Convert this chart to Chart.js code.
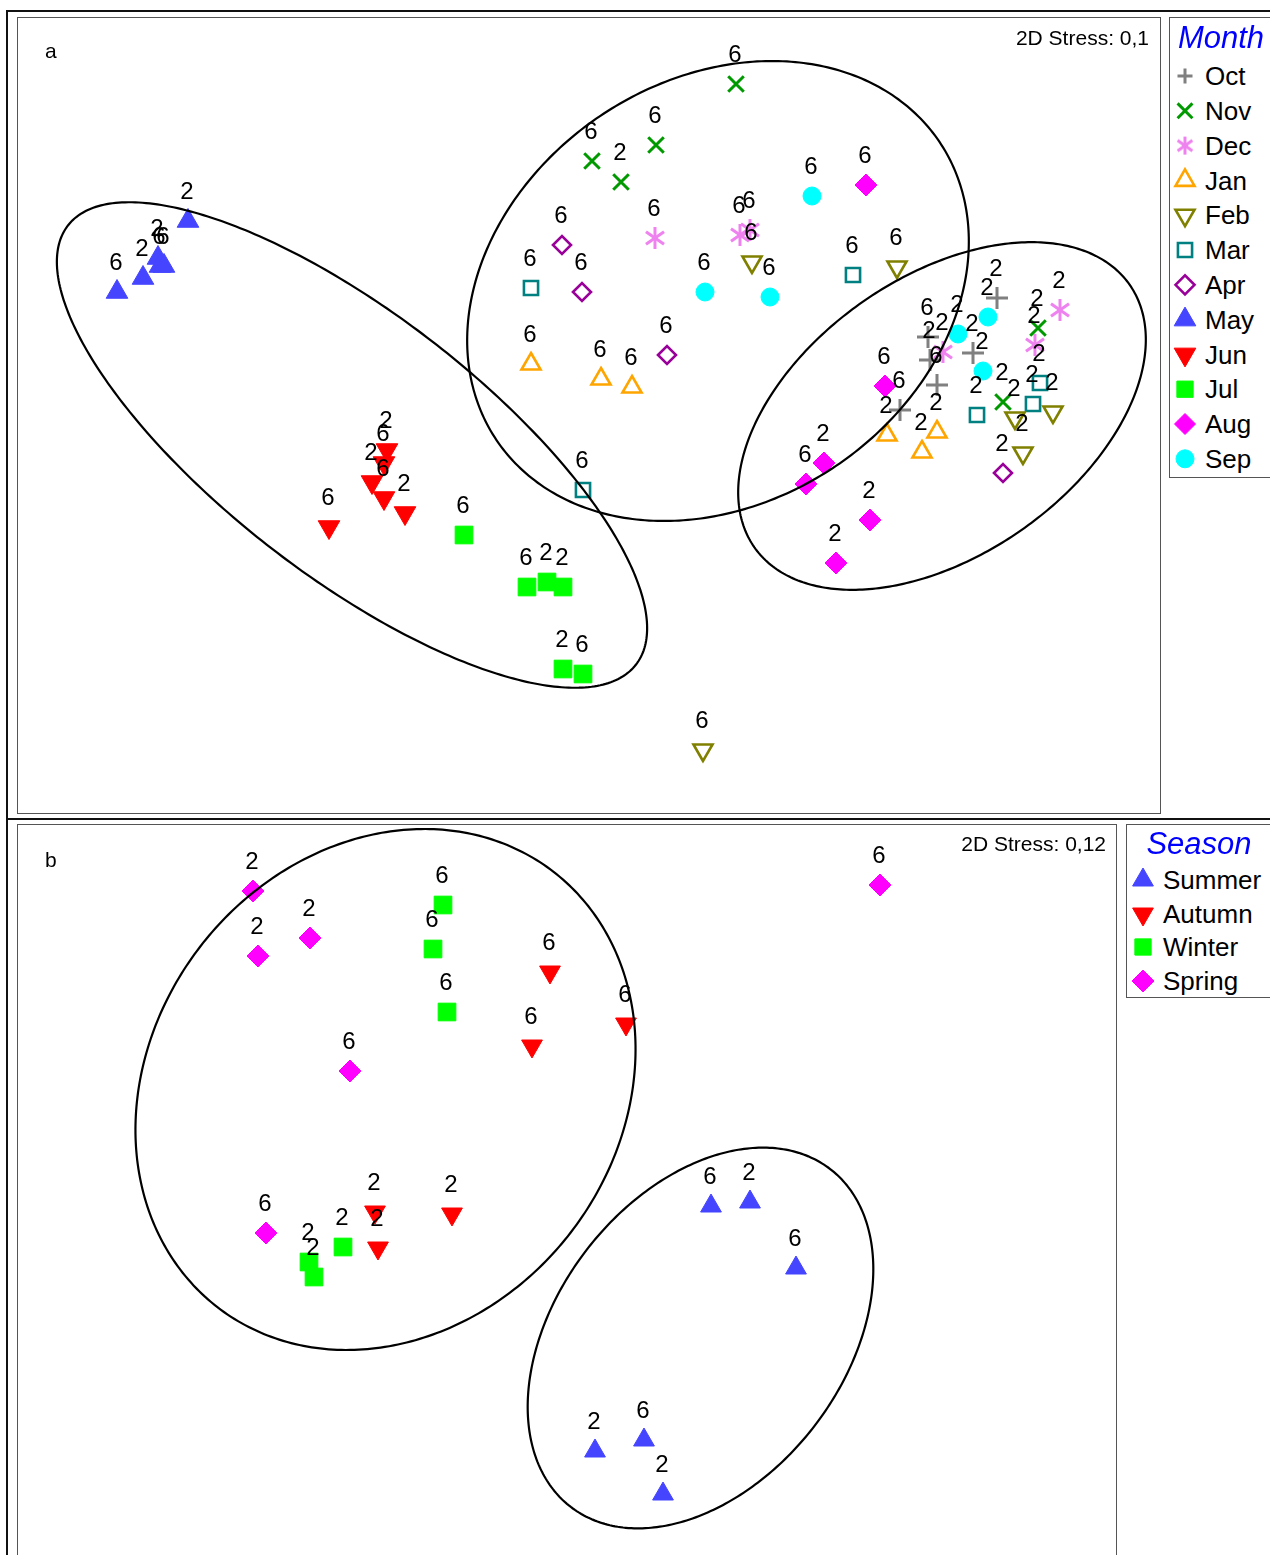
<!DOCTYPE html>
<html>
<head>
<meta charset="utf-8">
<script src="https://cdn.jsdelivr.net/npm/chart.js@4.4.1/dist/chart.umd.min.js"></script>
<style>
  html, body { margin: 0; padding: 0; background: #fff; }
  body { width: 1270px; height: 1555px; overflow: hidden; position: relative;
         font-family: "Liberation Sans", Arial, sans-serif; color: #000; }
  .abs { position: absolute; box-sizing: border-box; }
  .txt { position: absolute; white-space: nowrap; }
</style>
</head>
<body>
<div class="abs" style="left:6px;top:10px;width:1300px;height:1600px;border-left:2px solid #111;border-top:2px solid #111;"></div>
<div class="abs" style="left:6px;top:818px;width:1300px;height:0;border-top:2px solid #111;"></div>

<div class="abs" style="left:17px;top:17px;width:1144px;height:797px;border:1px solid #555;"></div>
<div class="abs" style="left:1169px;top:17px;width:200px;height:461px;border:1px solid #555;"></div>
<div class="abs" style="left:17px;top:824px;width:1100px;height:800px;border:1px solid #555;"></div>
<div class="abs" style="left:1126px;top:824px;width:200px;height:174px;border:1px solid #555;"></div>

<canvas id="plotA" class="abs" style="left:18px;top:18px;" width="1142" height="795"></canvas>
<canvas id="plotB" class="abs" style="left:18px;top:825px;" width="1098" height="730"></canvas>
<canvas id="legA" class="abs" style="left:1170px;top:18px;" width="34" height="459"></canvas>
<canvas id="legB" class="abs" style="left:1127px;top:825px;" width="34" height="172"></canvas>

<script>
// ---- Panel a: nMDS scores by month, [MDS1, MDS2, depth label] ----
const months = ['Oct', 'Nov', 'Dec', 'Jan', 'Feb', 'Mar', 'Apr', 'May', 'Jun', 'Jul', 'Aug', 'Sep'];
const oct = [[997, 298, '2'], [928, 337, '6'], [973, 353, '2'], [930, 360, '2'], [937, 385, '6'], [900, 410, '6']];
const nov = [[736, 84, '6'], [592, 161, '6'], [656, 145, '6'], [621, 182, '2'], [1038, 328, '2'], [1003, 402, '2']];
const dec = [[655, 238, '6'], [740, 235, '6'], [750, 230, '6'], [1060, 310, '2'], [1035, 345, '2'], [943, 352, '2']];
const jan = [[531, 364, '6'], [601, 379, '6'], [632, 387, '6'], [887, 435, '2'], [937, 432, '2'], [922, 452, '2']];
const feb = [[752, 262, '6'], [897, 267, '6'], [703, 750, '6'], [1015, 418, '2'], [1053, 412, '2'], [1023, 453, '2']];
const mar = [[531, 288, '6'], [583, 490, '6'], [853, 275, '6'], [977, 415, '2'], [1040, 383, '2'], [1033, 404, '2']];
const apr = [[562, 245, '6'], [582, 292, '6'], [667, 355, '6'], [1003, 473, '2']];
const may = [[117, 292, '6'], [143, 278, '2'], [158, 258, '2'], [160, 266, '6'], [164, 266, '6'], [188, 221, '2']];
const jun = [[387, 450, '2'], [384, 463, '6'], [372, 482, '2'], [384, 498, '6'], [405, 513, '2'], [329, 527, '6']];
const jul = [[464, 535, '6'], [527, 587, '6'], [547, 582, '2'], [563, 587, '2'], [563, 669, '2'], [583, 674, '6']];
const aug = [[866, 185, '6'], [885, 386, '6'], [824, 463, '2'], [806, 484, '6'], [870, 520, '2'], [836, 563, '2']];
const sep = [[812, 196, '6'], [705, 292, '6'], [770, 297, '6'], [988, 317, '2'], [958, 334, '2'], [983, 371, '2']];
// cluster envelopes: [centre MDS1, centre MDS2, semi-major, semi-minor, tilt in degrees]
const clustersA = [[352, 445, 359, 131, 37.7], [718, 291, 267, 211, -34], [942, 416, 229, 139, -35]];
const stressA = '2D Stress: 0,1';

// ---- Panel b: nMDS scores by season ----
const seasons = ['Summer', 'Autumn', 'Winter', 'Spring'];
const summer = [[711, 1206, '6'], [750, 1202, '2'], [796, 1268, '6'], [595, 1451, '2'], [644, 1440, '6'], [663, 1494, '2']];
const autumn = [[550, 972, '6'], [532, 1046, '6'], [626, 1024, '6'], [375, 1212, '2'], [378, 1248, '2'], [452, 1214, '2']];
const winter = [[443, 905, '6'], [433, 949, '6'], [447, 1012, '6'], [343, 1247, '2'], [309, 1262, '2'], [314, 1277, '2']];
const spring = [[253, 891, '2'], [258, 956, '2'], [310, 938, '2'], [350, 1071, '6'], [266, 1233, '6'], [880, 885, '6']];
const clustersB = [[385.5, 1089.5, 275, 234, -52.4], [700.5, 1338, 213, 144, -52.5]];
const stressB = '2D Stress: 0,12';

// ---- marker styling ----
function asterisk(color, size, lw) {
  const c = document.createElement('canvas');
  c.width = size; c.height = size;
  const g = c.getContext('2d');
  g.strokeStyle = color; g.lineWidth = lw;
  const m = size / 2, r = size / 2 - 1;
  [90, 35, 145].forEach(function (a) {
    const t = a * Math.PI / 180;
    g.beginPath();
    g.moveTo(m - r * Math.cos(t), m - r * Math.sin(t));
    g.lineTo(m + r * Math.cos(t), m + r * Math.sin(t));
    g.stroke();
  });
  return c;
}
const NONE = 'rgba(0,0,0,0)';
const monthStyle = {
  Oct: { shape: 'cross', color: '#808080', r: 11, lr: 7.5, bw: 3, open: true },
  Nov: { shape: 'crossRot', color: '#009a00', r: 11, lr: 10.5, bw: 3, open: true },
  Dec: { shape: asterisk('#ee82ee', 24, 3), legendShape: asterisk('#ee82ee', 20, 3), color: '#ee82ee', r: 12, bw: 0, open: true },
  Jan: { shape: 'triangle', color: '#ffa500', r: 11, lr: 11, bw: 2.6, open: true },
  Feb: { shape: 'triangle', rot: 180, color: '#808000', r: 11, lr: 11, bw: 2.6, open: true },
  Mar: { shape: 'rect', color: '#008080', r: 10, lr: 10, bw: 2.6, open: true },
  Apr: { shape: 'rectRot', color: '#990099', r: 9, lr: 9.5, bw: 2.6, open: true },
  May: { shape: 'triangle', color: '#4545ff', r: 12.5, lr: 12.5, bw: 1, open: false },
  Jun: { shape: 'triangle', rot: 180, color: '#ff0000', r: 12.5, lr: 12.5, bw: 1, open: false },
  Jul: { shape: 'rect', color: '#00ff00', r: 12.5, lr: 11.5, bw: 1, open: false },
  Aug: { shape: 'rectRot', color: '#ff00ff', r: 11, lr: 10.5, bw: 1, open: false },
  Sep: { shape: 'circle', color: '#00ffff', r: 9, lr: 9, bw: 1, open: false }
};
const seasonStyle = {
  Summer: { shape: 'triangle', color: '#4545ff', r: 12, lr: 12, bw: 1, open: false },
  Autumn: { shape: 'triangle', rot: 180, color: '#ff0000', r: 12, lr: 12, bw: 1, open: false },
  Winter: { shape: 'rect', color: '#00ff00', r: 12.5, lr: 11.5, bw: 1, open: false },
  Spring: { shape: 'rectRot', color: '#ff00ff', r: 11, lr: 11, bw: 1, open: false }
};
const monthSeries = { Oct: oct, Nov: nov, Dec: dec, Jan: jan, Feb: feb, Mar: mar, Apr: apr, May: may, Jun: jun, Jul: jul, Aug: aug, Sep: sep };
const seasonSeries = { Summer: summer, Autumn: autumn, Winter: winter, Spring: spring };

Chart.defaults.font.family = '"Liberation Sans", Arial, sans-serif';

function makeDataset(name, pts, st) {
  return {
    label: name,
    data: pts.map(function (p) { return { x: p[0], y: p[1], lab: p[2] }; }),
    pointStyle: st.shape,
    rotation: st.rot || 0,
    radius: st.r,
    hoverRadius: st.r,
    borderWidth: st.bw,
    borderColor: st.color,
    backgroundColor: st.open ? NONE : st.color,
    showLine: false
  };
}

// ellipse envelopes, traced in data space and mapped through the scales
const envelopePlugin = {
  id: 'envelopes',
  afterDatasetsDraw: function (chart) {
    const list = chart.options.plugins.envelopes.list;
    const xs = chart.scales.x, ys = chart.scales.y, ctx = chart.ctx;
    ctx.save();
    ctx.strokeStyle = '#000';
    ctx.lineWidth = 2.2;
    list.forEach(function (e) {
      const cx = e[0], cy = e[1], a = e[2], b = e[3], th = e[4] * Math.PI / 180;
      ctx.beginPath();
      for (let i = 0; i <= 360; i++) {
        const t = i * Math.PI / 180;
        const x = cx + a * Math.cos(t) * Math.cos(th) - b * Math.sin(t) * Math.sin(th);
        const y = cy + a * Math.cos(t) * Math.sin(th) + b * Math.sin(t) * Math.cos(th);
        const px = xs.getPixelForValue(x), py = ys.getPixelForValue(y);
        if (i === 0) ctx.moveTo(px, py); else ctx.lineTo(px, py);
      }
      ctx.closePath();
      ctx.stroke();
    });
    ctx.restore();
  }
};

// depth labels above each sample
const labelPlugin = {
  id: 'depthLabels',
  afterDraw: function (chart) {
    const ctx = chart.ctx;
    ctx.save();
    ctx.font = '24px "Liberation Sans", Arial, sans-serif';
    ctx.fillStyle = '#000';
    ctx.textAlign = 'center';
    ctx.textBaseline = 'alphabetic';
    chart.data.datasets.forEach(function (ds, i) {
      const meta = chart.getDatasetMeta(i);
      meta.data.forEach(function (el, j) {
        ctx.fillText(ds.data[j].lab, el.x - 1, el.y - 31 + 8.6);
      });
    });
    ctx.restore();
  }
};

function makeChart(id, datasets, xr, yr, envelopes) {
  return new Chart(document.getElementById(id), {
    type: 'scatter',
    data: { datasets: datasets },
    options: {
      responsive: false,
      animation: false,
      devicePixelRatio: 1,
      layout: { padding: 0, autoPadding: false },
      events: [],
      scales: {
        x: { type: 'linear', min: xr[0], max: xr[1], display: false },
        y: { type: 'linear', min: yr[0], max: yr[1], reverse: true, display: false }
      },
      plugins: {
        legend: { display: false },
        tooltip: { enabled: false },
        envelopes: { list: envelopes }
      }
    },
    plugins: [envelopePlugin, labelPlugin]
  });
}

makeChart('plotA', months.map(function (m) { return makeDataset(m, monthSeries[m], monthStyle[m]); }),
  [18, 1160], [18, 813], clustersA);
makeChart('plotB', seasons.map(function (s) { return makeDataset(s, seasonSeries[s], seasonStyle[s]); }),
  [18, 1116], [825, 1555], clustersB);

// ---- legends and annotations ----
function addText(str, x, y, size, opt) {
  opt = opt || {};
  const d = document.createElement('div');
  d.className = 'txt';
  d.textContent = str;
  d.style.fontSize = size + 'px';
  d.style.lineHeight = size + 'px';
  d.style.top = (y - 0.49 * size) + 'px';
  d.style.left = x + 'px';
  if (opt.italic) d.style.fontStyle = 'italic';
  if (opt.color) d.style.color = opt.color;
  if (opt.align === 'right') d.style.transform = 'translateX(-100%)';
  if (opt.align === 'center') d.style.transform = 'translateX(-50%)';
  document.body.appendChild(d);
}

function drawLegend(canvasId, names, styles, ox, oy, sx, rows) {
  const ctx = document.getElementById(canvasId).getContext('2d');
  names.forEach(function (n, i) {
    const st = styles[n];
    ctx.save();
    ctx.strokeStyle = st.color;
    ctx.fillStyle = st.open ? NONE : st.color;
    ctx.lineWidth = st.bw;
    Chart.helpers.drawPoint(ctx, { pointStyle: st.legendShape || st.shape, rotation: st.rot || 0, radius: st.lr || st.r, borderWidth: st.bw }, sx - ox, rows[i] - oy);
    ctx.restore();
  });
}

const rowsA = months.map(function (m, i) { return 76 + i * 34.8; });
drawLegend('legA', months, monthStyle, 1170, 18, 1185, rowsA);
months.forEach(function (m, i) { addText(m, 1205, rowsA[i], 26); });
addText('Month', 1221, 37, 31, { italic: true, color: '#0000ff', align: 'center' });

const rowsB = [880, 914, 947, 981];
drawLegend('legB', seasons, seasonStyle, 1127, 825, 1143, rowsB);
seasons.forEach(function (s, i) { addText(s, 1163, rowsB[i], 26); });
addText('Season', 1199, 843, 31, { italic: true, color: '#0000ff', align: 'center' });

addText('a', 45, 50, 21);
addText('b', 45, 859, 21);
addText(stressA, 1149, 37, 21, { align: 'right' });
addText(stressB, 1106, 843, 21, { align: 'right' });
</script>
</body>
</html>
